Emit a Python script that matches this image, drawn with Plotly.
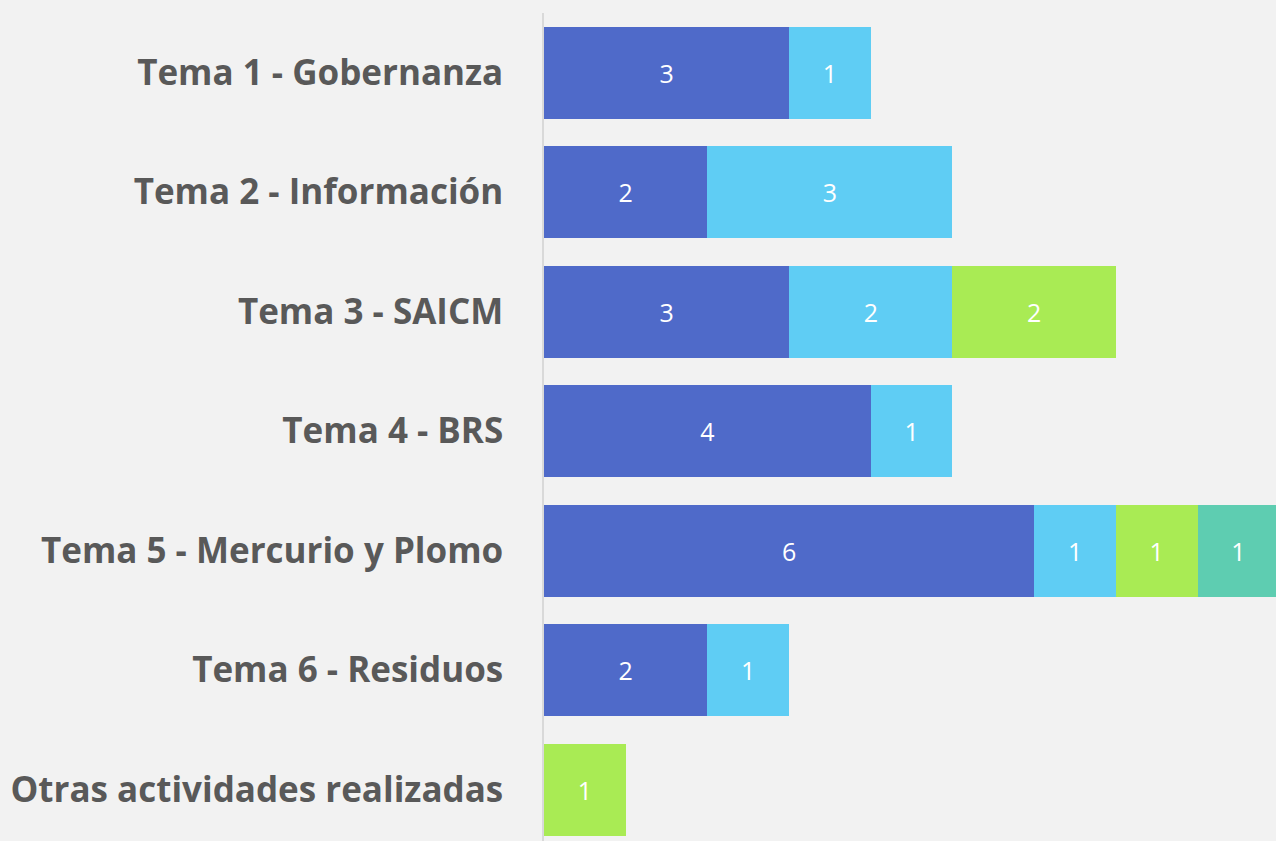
import plotly.graph_objects as go

categories = ["Tema 1 - Gobernanza", "Tema 2 - Información", "Tema 3 - SAICM",
              "Tema 4 - BRS", "Tema 5 - Mercurio y Plomo", "Tema 6 - Residuos",
              "Otras actividades realizadas"]
serie_a = [3, 2, 3, 4, 6, 2, None]
serie_b = [1, 3, 2, 1, 1, 1, None]
serie_c = [None, None, 2, None, 1, None, 1]
serie_d = [None, None, None, None, 1, None, None]

colors = ["#4f6ac9", "#5fcdf4", "#a9eb54", "#5ecdb1"]
series = [serie_a, serie_b, serie_c, serie_d]

fig = go.Figure()
for vals, col in zip(series, colors):
    fig.add_trace(go.Bar(
        y=categories, x=vals, orientation="h",
        marker=dict(color=col, line=dict(width=0)),
        text=[("" if v is None else str(v)) for v in vals],
        textposition="inside", insidetextanchor="middle",
        textangle=0, constraintext="none",
        textfont=dict(color="white", size=25, family="Open Sans"),
        showlegend=False, hoverinfo="skip",
    ))

fig.update_layout(
    barmode="stack",
    bargap=0.23,
    width=1276, height=841,
    margin=dict(l=544, r=0, t=13, b=0),
    paper_bgcolor="#f2f2f2", plot_bgcolor="#f2f2f2",
    xaxis=dict(range=[0, 8.96], visible=False, showgrid=False, zeroline=False),
    yaxis=dict(categoryorder="array", categoryarray=categories,
               range=[6.43, -0.5], showgrid=False, zeroline=False,
               showline=True, linecolor="#d9d9d9", linewidth=1.5,
               ticks="", ticklabelstandoff=32,
               tickfont=dict(family="Open Sans", size=35, color="#595959", weight="bold")),
)

fig.write_html("out.html", config={"displayModeBar": False},
               post_script="document.body.style.margin='0';document.body.style.background='#f2f2f2';")
